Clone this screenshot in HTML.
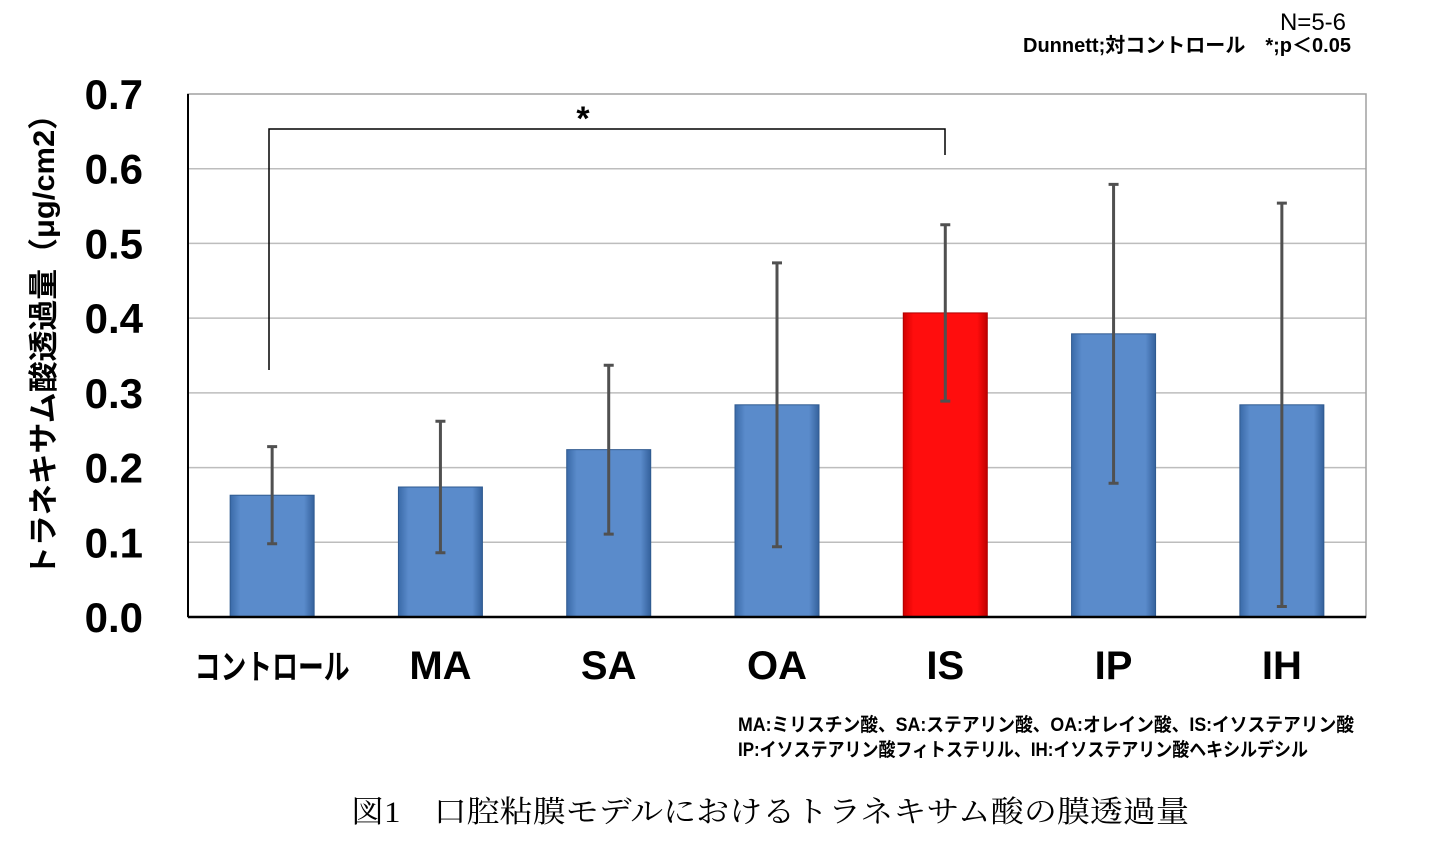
<!DOCTYPE html>
<html><head><meta charset="utf-8"><style>
body{margin:0;background:#fff;}
svg{display:block;font-family:"Liberation Sans","Noto Sans CJK JP",sans-serif;}
</style></head><body>
<svg id="chart" width="1441" height="858">
<defs>
<linearGradient id="gb" x1="0" x2="1" y1="0" y2="0">
<stop offset="0" stop-color="#3a6aa8"/><stop offset="0.12" stop-color="#5a8bcb"/><stop offset="0.88" stop-color="#5a8bcb"/><stop offset="1" stop-color="#34619c"/></linearGradient>
<linearGradient id="gr" x1="0" x2="1" y1="0" y2="0">
<stop offset="0" stop-color="#d00000"/><stop offset="0.12" stop-color="#ff0d0d"/><stop offset="0.88" stop-color="#ff0d0d"/><stop offset="1" stop-color="#c00000"/></linearGradient>
</defs>
<g id="grid"></g><g id="bars"></g><g id="errs"></g><g id="labels"></g>
<rect x="188" y="94" width="1178" height="523" fill="none" stroke="#a0a0a0" stroke-width="1.5"/>
<line x1="188" y1="94" x2="188" y2="617" stroke="#000" stroke-width="2"/>
<line x1="188" y1="617" x2="1366" y2="617" stroke="#000" stroke-width="2.5"/>
<path d="M269 370 V129 H945 V155" fill="none" stroke="#000" stroke-width="1.5"/>
<text x="583" y="130" font-size="34" text-anchor="middle" font-weight="bold">*</text>
<text x="1313" y="30" font-size="24" text-anchor="middle">N=5-6</text>
<text x="1023" y="52" font-size="20" font-weight="bold" textLength="328" lengthAdjust="spacingAndGlyphs">Dunnett;対コントロール　*;p＜0.05</text>
<text transform="translate(54,338) rotate(-90)" font-size="30" font-weight="bold" text-anchor="middle" textLength="478" lengthAdjust="spacingAndGlyphs">トラネキサム酸透過量（μg/cm2）</text>
<text x="738" y="731" font-size="19" font-weight="bold" textLength="616" lengthAdjust="spacingAndGlyphs">MA:ミリスチン酸、SA:ステアリン酸、OA:オレイン酸、IS:イソステアリン酸</text>
<text x="738" y="756" font-size="19" font-weight="bold" textLength="570" lengthAdjust="spacingAndGlyphs">IP:イソステアリン酸フィトステリル、IH:イソステアリン酸ヘキシルデシル</text>
<text x="351" y="822" font-size="30" textLength="838" lengthAdjust="spacingAndGlyphs" font-family="Liberation Serif,Noto Serif CJK SC,serif">図1　口腔粘膜モデルにおけるトラネキサム酸の膜透過量</text>
</svg>
<script>
const categories=["コントロール","MA","SA","OA","IS","IP","IH"];
const values=[0.163,0.174,0.224,0.284,0.407,0.379,0.284];
const errors=[0.065,0.088,0.113,0.19,0.118,0.2,0.27];
const yTicks=[0,0.1,0.2,0.3,0.4,0.5,0.6,0.7];
const highlight=[false,false,false,false,true,false,false];
const NS="http://www.w3.org/2000/svg";
const X0=188,X1=1366,Y0=617,Y1=94,YMAX=0.7;
const y=v=>Y0-(v/YMAX)*(Y0-Y1);
const bw=(X1-X0)/categories.length;
const xc=i=>X0+bw*(i+0.5);
function mk(t,a,p){const e=document.createElementNS(NS,t);for(const k in a)e.setAttribute(k,a[k]);document.getElementById(p).appendChild(e);return e;}
yTicks.forEach((t,i)=>{
 if(t>0&&t<YMAX){const l=mk('line',{x1:X0,x2:X1,y1:y(t),y2:y(t),stroke:'#bdbdbd','stroke-width':1.5},'grid');
 
 }
 const tx=mk('text',{x:143,y:y(t)+15,'font-size':42,'font-weight':'bold','text-anchor':'end'},'labels');
 tx.textContent=t.toFixed(1);
 
 
});
categories.forEach((c,i)=>{
 const w=84,x=xc(i)-w/2;
 const r=mk('rect',{x:x,y:y(values[i]),width:w,height:Y0-y(values[i]),fill:highlight[i]?'url(#gr)':'url(#gb)',stroke:highlight[i]?'#b00000':'#2f5a90','stroke-width':1},'bars');
 
 
 const hi=y(values[i]+errors[i]),lo=y(values[i]-errors[i]);
 const e=mk('path',{d:`M${xc(i)} ${hi}V${lo}M${xc(i)-5} ${hi}H${xc(i)+5}M${xc(i)-5} ${lo}H${xc(i)+5}`,stroke:'#505050','stroke-width':3,fill:'none'},'errs');
 
 
 const t=mk('text',{x:xc(i),y:679,'font-size':i===0?34:40,'font-weight':'bold','text-anchor':'middle'},'labels');
 if(i===0){t.setAttribute('textLength','155');t.setAttribute('lengthAdjust','spacingAndGlyphs');}
 t.textContent=c;
 
 
});
</script>
</body></html>
